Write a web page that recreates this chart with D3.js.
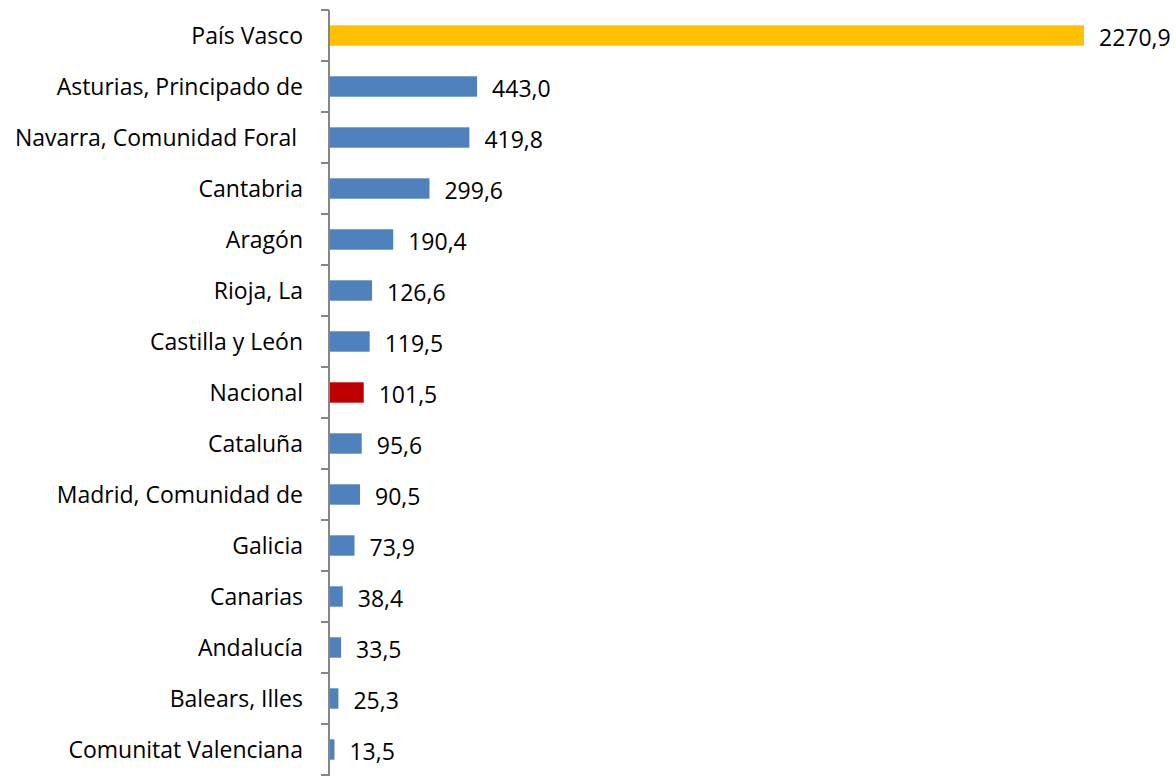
<!DOCTYPE html>
<html>
<head>
<meta charset="utf-8">
<script src="https://cdn.jsdelivr.net/npm/d3@7"></script>
<style>
  body { margin: 0; background: #fff; }
  text { font-family: "Open Sans", sans-serif; }
</style>
</head>
<body>
<div class="canvas"></div>
<script>
// data
const regions = ['País Vasco', 'Asturias, Principado de', 'Navarra, Comunidad Foral ', 'Cantabria',
    'Aragón', 'Rioja, La', 'Castilla y León', 'Nacional', 'Cataluña', 'Madrid, Comunidad de',
    'Galicia', 'Canarias', 'Andalucía', 'Balears, Illes', 'Comunitat Valenciana'];
const values = [2270.9, 443.0, 419.8, 299.6, 190.4, 126.6, 119.5, 101.5, 95.6, 90.5,
    73.9, 38.4, 33.5, 25.3, 13.5];
const highlight = { 'País Vasco': '#FFC000', 'Nacional': '#C00000' };

const data = regions.map((r, i) => ({ name: r, value: values[i] }));

const width = 1176, height = 776;
const margin = { top: 10, right: 93, bottom: 1, left: 329 };
const graphWidth = width - margin.left - margin.right;
const graphHeight = height - margin.top - margin.bottom;
const fontSize = 23;

const svg = d3.select('.canvas')
    .append('svg')
    .attr('width', width)
    .attr('height', height);

const graph = svg.append('g')
    .attr('transform', `translate(${margin.left}, ${margin.top})`);

// scales
const x = d3.scaleLinear()
    .domain([0, 2270.9])
    .range([0, graphWidth]);

const y = d3.scaleBand()
    .domain(regions)
    .range([0, graphHeight])
    .paddingInner(0.6)
    .paddingOuter(0.3);

// bars
graph.selectAll('rect')
    .data(data)
    .enter()
    .append('rect')
    .attr('x', 1)
    .attr('y', d => y(d.name))
    .attr('width', d => x(d.value))
    .attr('height', y.bandwidth())
    .attr('fill', d => highlight[d.name] || '#4F81BD');

// value labels
graph.selectAll('.val')
    .data(data)
    .enter()
    .append('text')
    .attr('class', 'val')
    .attr('x', d => x(d.value) + 16)
    .attr('y', d => y(d.name) + y.bandwidth() / 2)
    .attr('dy', '0.46em')
    .attr('font-size', fontSize)
    .attr('fill', '#000')
    .text(d => d3.format('.1f')(d.value).replace('.', ','));

// axis with ticks at band edges
const axisG = graph.append('g');
axisG.append('line')
    .attr('x1', 0).attr('x2', 0)
    .attr('y1', 0).attr('y2', graphHeight + 1)
    .attr('stroke', '#868686')
    .attr('stroke-width', 2);

const step = y.step();
const edges = d3.range(regions.length + 1).map(i => i * step);
axisG.selectAll('.tick')
    .data(edges)
    .enter()
    .append('line')
    .attr('x1', -8).attr('x2', 0)
    .attr('y1', d => d).attr('y2', d => d)
    .attr('stroke', '#868686')
    .attr('stroke-width', 2);

// category labels
axisG.selectAll('.cat')
    .data(regions)
    .enter()
    .append('text')
    .attr('class', 'cat')
    .attr('x', -26)
    .attr('y', d => y(d) + y.bandwidth() / 2)
    .attr('dy', '0.35em')
    .attr('text-anchor', 'end')
    .attr('font-size', fontSize)
    .style('white-space', 'pre')
    .attr('fill', '#000')
    .text(d => d);
</script>
</body>
</html>
